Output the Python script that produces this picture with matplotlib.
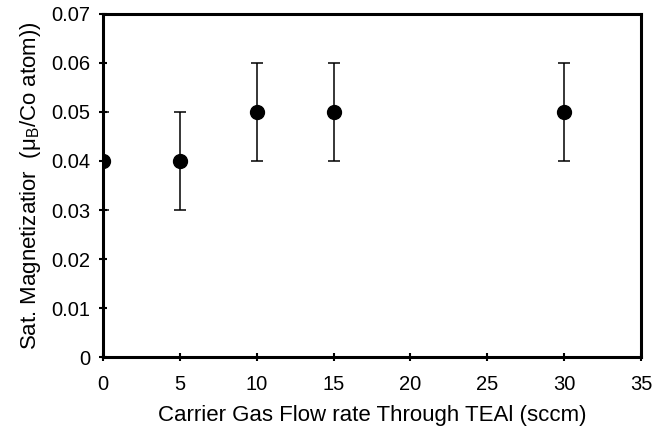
import numpy as np
import matplotlib
matplotlib.use('Agg')
import matplotlib.pyplot as plt

plt.rcParams['font.family'] = ['Liberation Sans', 'DejaVu Sans']
plt.rcParams['mathtext.fontset'] = 'custom'
plt.rcParams['mathtext.rm'] = 'Liberation Sans'

flow_rate = [0, 5, 10, 15, 30]
magnetization = [0.04, 0.04, 0.05, 0.05, 0.05]
error = [0.01, 0.01, 0.01, 0.01, 0.01]
x_ticks = [0, 5, 10, 15, 20, 25, 30, 35]
y_ticks = [0, 0.01, 0.02, 0.03, 0.04, 0.05, 0.06, 0.07]
y_tick_labels = ['0', '0.01', '0.02', '0.03', '0.04', '0.05', '0.06', '0.07']

fig = plt.figure(figsize=(6.66, 4.29), dpi=100)
ax = fig.add_axes([0.1547, 0.1678, 0.9625 - 0.1547, 0.9674 - 0.1678])

ax.errorbar(flow_rate, magnetization, yerr=error, fmt='o', color='black',
            markersize=10, elinewidth=1.1, capsize=4.5, capthick=1.1, zorder=3)

ax.set_xlim(0, 35)
ax.set_ylim(0, 0.07)
ax.set_xticks(x_ticks)
ax.set_yticks(y_ticks)
ax.set_yticklabels(y_tick_labels)
ax.tick_params(direction='inout', length=6, width=1.5, labelsize=14.5)
ax.tick_params(axis='x', pad=10)
ax.tick_params(axis='y', pad=6)

for spine in ax.spines.values():
    spine.set_linewidth(2.2)

ax.set_xlabel('Carrier Gas Flow rate Through TEAl (sccm)', fontsize=16, labelpad=8)
ax.set_ylabel(r'Sat. Magnetizatior  (μ$_\mathregular{B}$/Co atom))', fontsize=16, labelpad=6)

fig.savefig('out.png', dpi=100)
